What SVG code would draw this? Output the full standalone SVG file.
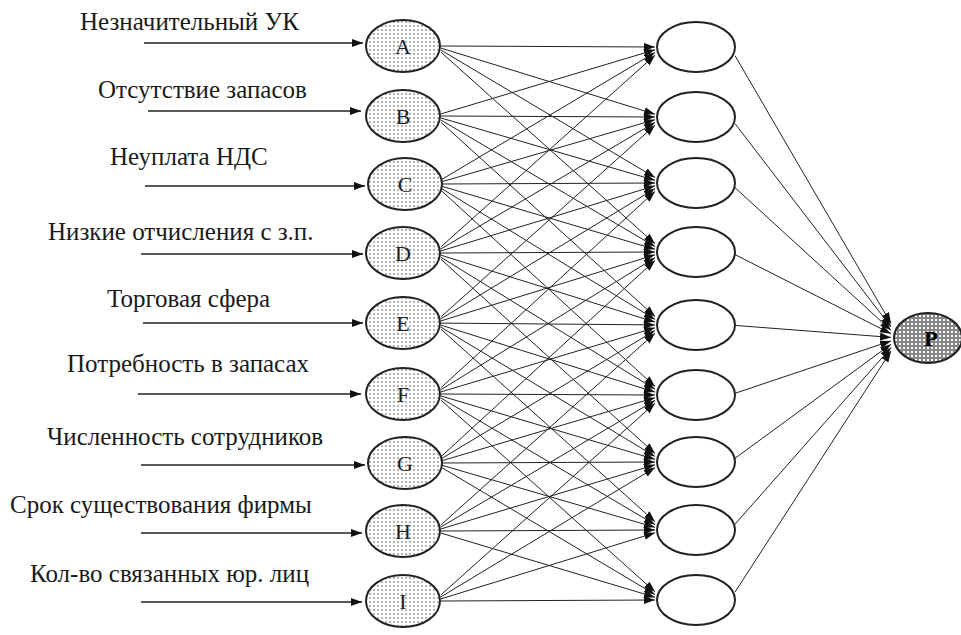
<svg xmlns="http://www.w3.org/2000/svg" width="961" height="635" viewBox="0 0 961 635">
<defs>
<style>
.lbl{font-family:'Liberation Serif','Times New Roman','DejaVu Serif',serif;font-size:25px;fill:#1a1a1a}
.let{font-family:'Liberation Serif','Times New Roman','DejaVu Serif',serif;font-size:22px;fill:#222;text-anchor:middle}
.in{fill:url(#dots);stroke:#222;stroke-width:2}
.mid{fill:#fff;stroke:#222;stroke-width:2}
.e{stroke:#222;stroke-width:1;fill:none;marker-end:url(#ah)}
.inp{stroke:#222;stroke-width:1.3;fill:none;marker-end:url(#ah)}
</style>
<pattern id="dots" width="4" height="4" patternUnits="userSpaceOnUse">
<rect width="4" height="4" fill="#fff"/>
<circle cx="2" cy="2" r="0.7" fill="#333"/>
</pattern>
<pattern id="rings" width="4" height="4" patternUnits="userSpaceOnUse">
<rect width="4" height="4" fill="#fff"/>
<circle cx="2" cy="2" r="1.3" fill="none" stroke="#222" stroke-width="0.9"/>
</pattern>
<marker id="ah" markerUnits="userSpaceOnUse" markerWidth="12" markerHeight="9" refX="11" refY="4" orient="auto">
<path d="M0,0 L11,4 L0,8 z" fill="#111"/>
</marker>
</defs>
<rect width="961" height="635" fill="#fff"/>
<g id="connectors">
<g id="inputs">
<line class="inp" x1="144" y1="43" x2="363" y2="43"/>
<line class="inp" x1="148" y1="111" x2="361" y2="111"/>
<line class="inp" x1="145" y1="186" x2="365" y2="186"/>
<line class="inp" x1="141" y1="254" x2="363" y2="254"/>
<line class="inp" x1="143" y1="323" x2="363" y2="323"/>
<line class="inp" x1="138" y1="394" x2="361" y2="394"/>
<line class="inp" x1="141" y1="465" x2="365" y2="465"/>
<line class="inp" x1="141" y1="533" x2="362" y2="533"/>
<line class="inp" x1="141" y1="602" x2="362" y2="602"/>
</g>
<g id="hidden-edges">
<line class="e" x1="441" y1="46" x2="655" y2="47"/>
<line class="e" x1="441" y1="48.1" x2="655" y2="114.2"/>
<line class="e" x1="441" y1="50.1" x2="655" y2="177.5"/>
<line class="e" x1="441" y1="52.2" x2="655" y2="243.8"/>
<line class="e" x1="441" y1="113.9" x2="655" y2="49.8"/>
<line class="e" x1="441" y1="116" x2="655" y2="117"/>
<line class="e" x1="441" y1="118" x2="655" y2="180.3"/>
<line class="e" x1="441" y1="120.1" x2="655" y2="246.6"/>
<line class="e" x1="441" y1="122.3" x2="655" y2="316.6"/>
<line class="e" x1="441" y1="179.9" x2="655" y2="52.5"/>
<line class="e" x1="441" y1="182" x2="655" y2="119.7"/>
<line class="e" x1="441" y1="184" x2="655" y2="183"/>
<line class="e" x1="441" y1="186" x2="655" y2="249.3"/>
<line class="e" x1="441" y1="188.2" x2="655" y2="319.4"/>
<line class="e" x1="441" y1="190.3" x2="655" y2="386.6"/>
<line class="e" x1="441" y1="246.8" x2="655" y2="55.2"/>
<line class="e" x1="441" y1="248.9" x2="655" y2="122.4"/>
<line class="e" x1="441" y1="250.9" x2="655" y2="185.8"/>
<line class="e" x1="441" y1="253" x2="655" y2="252"/>
<line class="e" x1="441" y1="255.2" x2="655" y2="322.1"/>
<line class="e" x1="441" y1="257.3" x2="655" y2="389.3"/>
<line class="e" x1="441" y1="259.3" x2="655" y2="453.6"/>
<line class="e" x1="441" y1="316.8" x2="655" y2="125.2"/>
<line class="e" x1="441" y1="318.8" x2="655" y2="188.6"/>
<line class="e" x1="441" y1="320.9" x2="655" y2="254.8"/>
<line class="e" x1="441" y1="323.1" x2="655" y2="324.9"/>
<line class="e" x1="441" y1="325.2" x2="655" y2="392.1"/>
<line class="e" x1="441" y1="327.2" x2="655" y2="456.4"/>
<line class="e" x1="441" y1="329.2" x2="655" y2="521.7"/>
<line class="e" x1="441" y1="387.7" x2="655" y2="191.4"/>
<line class="e" x1="441" y1="389.7" x2="655" y2="257.7"/>
<line class="e" x1="441" y1="391.9" x2="655" y2="327.8"/>
<line class="e" x1="441" y1="394" x2="655" y2="395"/>
<line class="e" x1="441" y1="396" x2="655" y2="459.3"/>
<line class="e" x1="441" y1="398.1" x2="655" y2="524.6"/>
<line class="e" x1="441" y1="400.2" x2="655" y2="591.8"/>
<line class="e" x1="441" y1="456.7" x2="655" y2="260.4"/>
<line class="e" x1="441" y1="458.9" x2="655" y2="330.5"/>
<line class="e" x1="441" y1="461" x2="655" y2="397.7"/>
<line class="e" x1="441" y1="463" x2="655" y2="462"/>
<line class="e" x1="441" y1="465" x2="655" y2="527.3"/>
<line class="e" x1="441" y1="467.1" x2="655" y2="594.5"/>
<line class="e" x1="441" y1="524.8" x2="655" y2="333.2"/>
<line class="e" x1="441" y1="526.9" x2="655" y2="400.4"/>
<line class="e" x1="441" y1="528.9" x2="655" y2="464.8"/>
<line class="e" x1="441" y1="531" x2="655" y2="530"/>
<line class="e" x1="441" y1="533.1" x2="655" y2="597.2"/>
<line class="e" x1="441" y1="594.8" x2="655" y2="403.2"/>
<line class="e" x1="441" y1="596.8" x2="655" y2="467.6"/>
<line class="e" x1="441" y1="598.9" x2="655" y2="532.8"/>
<line class="e" x1="441" y1="601" x2="655" y2="600"/>
</g>
<g id="output-edges">
<line class="e" x1="735" y1="55.7" x2="891" y2="323.5"/>
<line class="e" x1="735" y1="123.6" x2="891" y2="327"/>
<line class="e" x1="735" y1="187.7" x2="891" y2="330.3"/>
<line class="e" x1="735" y1="254.6" x2="891" y2="333.7"/>
<line class="e" x1="735" y1="325.4" x2="891" y2="337.4"/>
<line class="e" x1="735" y1="393.3" x2="891" y2="340.9"/>
<line class="e" x1="735" y1="458.3" x2="891" y2="344.2"/>
<line class="e" x1="735" y1="524.2" x2="891" y2="347.6"/>
<line class="e" x1="735" y1="592.1" x2="891" y2="351.1"/>
</g>
</g>
<g id="labels">
<text class="lbl" x="80" y="30">Незначительный УК</text>
<text class="lbl" x="98" y="98">Отсутствие запасов</text>
<text class="lbl" x="110" y="165">Неуплата НДС</text>
<text class="lbl" x="48" y="240">Низкие отчисления с з.п.</text>
<text class="lbl" x="107" y="307">Торговая сфера</text>
<text class="lbl" x="67" y="372">Потребность в запасах</text>
<text class="lbl" x="47" y="445">Численность сотрудников</text>
<text class="lbl" x="10" y="513">Срок существования фирмы</text>
<text class="lbl" x="30" y="582">Кол-во связанных юр. лиц</text>
</g>
<g id="node-A"><ellipse class="in" cx="403" cy="46" rx="37" ry="26"/><text class="let" x="403" y="54">A</text></g>
<g id="node-B"><ellipse class="in" cx="403" cy="116" rx="37" ry="26"/><text class="let" x="403" y="124">B</text></g>
<g id="node-C"><ellipse class="in" cx="405" cy="184" rx="37" ry="26"/><text class="let" x="405" y="192">C</text></g>
<g id="node-D"><ellipse class="in" cx="403" cy="253" rx="37" ry="26"/><text class="let" x="403" y="261">D</text></g>
<g id="node-E"><ellipse class="in" cx="403" cy="323" rx="37" ry="26"/><text class="let" x="403" y="331">E</text></g>
<g id="node-F"><ellipse class="in" cx="403" cy="394" rx="37" ry="26"/><text class="let" x="403" y="402">F</text></g>
<g id="node-G"><ellipse class="in" cx="405" cy="463" rx="37" ry="26"/><text class="let" x="405" y="471">G</text></g>
<g id="node-H"><ellipse class="in" cx="403" cy="531" rx="37" ry="26"/><text class="let" x="403" y="539">H</text></g>
<g id="node-I"><ellipse class="in" cx="403" cy="601" rx="37" ry="26"/><text class="let" x="403" y="609">I</text></g>
<g id="hidden-1"><ellipse class="mid" cx="696" cy="47" rx="39" ry="25"/></g>
<g id="hidden-2"><ellipse class="mid" cx="696" cy="117" rx="39" ry="25"/></g>
<g id="hidden-3"><ellipse class="mid" cx="696" cy="183" rx="39" ry="25"/></g>
<g id="hidden-4"><ellipse class="mid" cx="696" cy="252" rx="39" ry="25"/></g>
<g id="hidden-5"><ellipse class="mid" cx="696" cy="325" rx="39" ry="25"/></g>
<g id="hidden-6"><ellipse class="mid" cx="696" cy="395" rx="39" ry="25"/></g>
<g id="hidden-7"><ellipse class="mid" cx="696" cy="462" rx="39" ry="25"/></g>
<g id="hidden-8"><ellipse class="mid" cx="696" cy="530" rx="39" ry="25"/></g>
<g id="hidden-9"><ellipse class="mid" cx="696" cy="600" rx="39" ry="25"/></g>
<g id="node-P"><ellipse cx="928" cy="338" rx="34" ry="25" fill="url(#rings)" stroke="#222" stroke-width="2"/><text class="let" x="931" y="346" font-weight="bold" font-size="24" style="fill:#000">P</text></g>
</svg>
